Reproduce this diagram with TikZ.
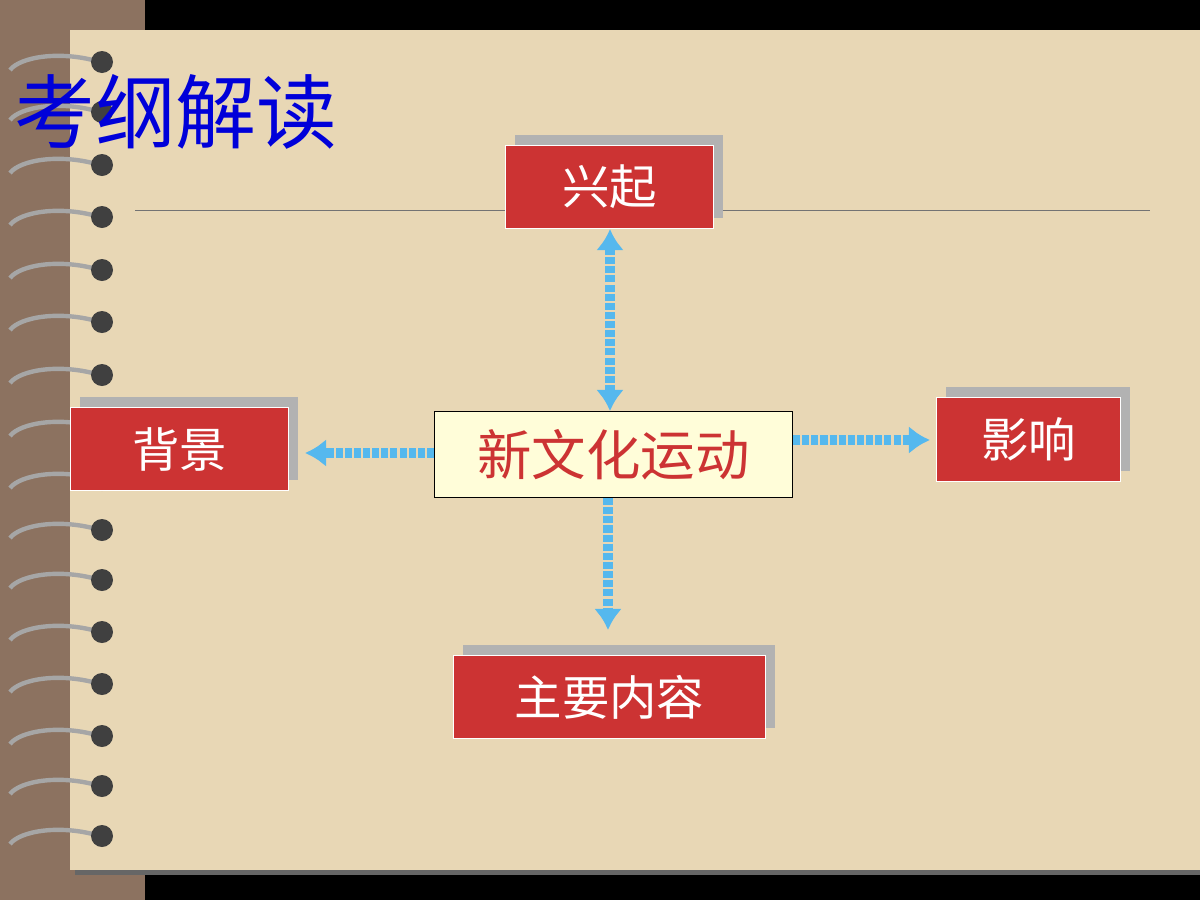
\documentclass[tikz,border=0pt]{standalone}
\usepackage{fontspec}
\setmainfont{Noto Sans CJK SC}
\usetikzlibrary{arrows.meta,positioning}
\definecolor{pagebeige}{HTML}{E8D7B5}
\definecolor{spinebrown}{HTML}{8C7260}
\definecolor{boxred}{HTML}{CC3333}
\definecolor{flowblue}{HTML}{55B8EE}
\tikzset{
  topic/.style={fill=boxred, draw=white, line width=0.6pt, text=white,
    font=\fontsize{27}{27}\selectfont, inner sep=0pt, anchor=north west},
  flow/.style={draw=flowblue, line width=6pt, dash pattern=on 4pt off 1.2pt,
    -{Latex[length=12pt,width=16pt]}},
}
\begin{document}
\begin{tikzpicture}[x=0.02cm,y=-0.02cm]
    % Background and page
    \fill[black] (0,0) rectangle (1200,900);
    \fill[spinebrown] (0,0) rectangle (145,900);
    \fill[black!60] (75,35) rectangle (1200,875);
    \fill[pagebeige] (70,30) rectangle (1200,870);

    % Spiral rings
    \foreach \ry in {62,112,165,217,270,322,375,428,480,530,580,632,684,736,786,836} {
        \draw[gray!70, line width=2.5pt] (100,\ry) .. controls (60,\ry-12) and (20,\ry-5) .. (10,\ry+8);
        \fill[black!75] (102,\ry) circle (11);
    }

    % Title and rule
    \node[anchor=west, text=blue!85!black, font=\fontsize{46}{46}\selectfont] (title) at (8,112) {考纲解读};
    \draw[black!55, line width=0.5pt] (135,210) -- (1150,210);

    % Shadows
    \foreach \x/\y/\w/\h in {505/145/208/83, 70/407/218/83, 936/397/184/84, 453/655/312/83} {
        \fill[black!30] (\x+10,\y-10) rectangle (\x+\w+10,\y+\h-10);
    }

    % Topic boxes
    \node[topic, minimum width=208*0.02cm, minimum height=83*0.02cm] (rise) at (505,145) {兴起};
    \node[topic, minimum width=218*0.02cm, minimum height=83*0.02cm] (cause) at (70,407) {背景};
    \node[topic, minimum width=184*0.02cm, minimum height=84*0.02cm] (effect) at (936,397) {影响};
    \node[topic, minimum width=312*0.02cm, minimum height=83*0.02cm] (content) at (453,655) {主要内容};

    % Centre box
    \node[anchor=north west, fill=yellow!15, draw=black, line width=0.6pt, inner sep=0pt,
        minimum width=358*0.02cm, minimum height=86*0.02cm, text=boxred,
        font=\fontsize{31}{31}\selectfont] (core) at (434,411) {新文化运动};

    % Connectors
    \coordinate (downend) at (608,630);
    \coordinate (leftend) at (305,453);
    \coordinate (rightend) at (930,440);
    \draw[flow, {Latex[length=12pt,width=16pt]}-{Latex[length=12pt,width=16pt]}] (core.north -| 610,0) -- (rise.south -| 610,0);
    \draw[flow] (core.south -| 608,0) -- (downend);
    \draw[flow] (core.west |- leftend) -- (leftend);
    \draw[flow] (core.east |- rightend) -- (rightend);
\end{tikzpicture}
\end{document}
